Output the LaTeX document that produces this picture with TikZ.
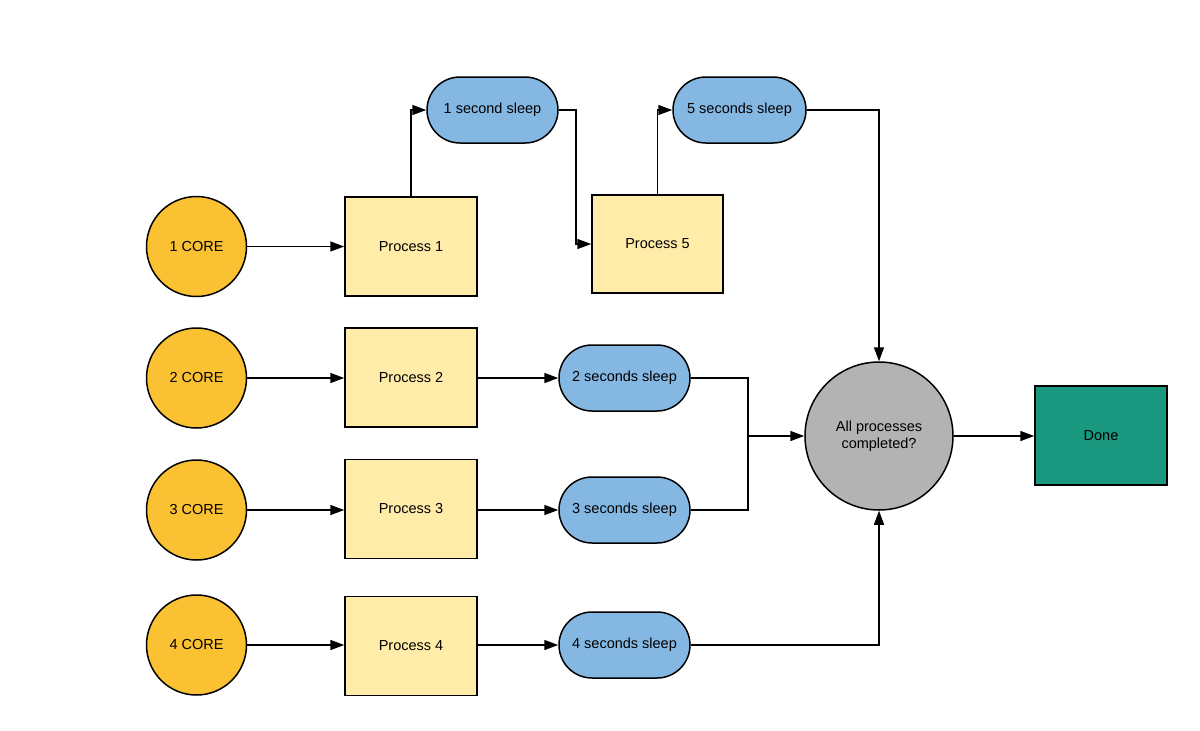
\documentclass[tikz,border=0pt]{standalone}
\usepackage{fontspec}
\setmainfont{Liberation Sans}
\usetikzlibrary{arrows.meta}
\definecolor{coreorange}{HTML}{FAC133}
\definecolor{procyellow}{HTML}{FFECA8}
\definecolor{sleepblue}{HTML}{84B8E3}
\definecolor{checkgray}{HTML}{B3B3B3}
\definecolor{doneteal}{HTML}{1A977F}
\tikzset{
  base/.style={draw=black, line width=1.5pt, inner sep=0pt, text=black,
    font=\fontsize{14.5}{17}\selectfont},
  corenode/.style={base, circle, fill=coreorange, minimum size=100pt},
  procnode/.style={base, rectangle, fill=procyellow, minimum width=132pt, minimum height=99pt},
  sleepnode/.style={base, rectangle, rounded corners=33pt, fill=sleepblue, minimum width=131pt, minimum height=66pt},
  checknode/.style={base, circle, fill=checkgray, minimum size=148pt, align=center},
  donenode/.style={base, rectangle, fill=doneteal, minimum width=132pt, minimum height=99pt},
  conn/.style={draw=black, line width=1.5pt},
  arr/.style={conn, -{Triangle[length=14pt,width=10pt]}}
}
\begin{document}
\begin{tikzpicture}[x=1pt,y=-1pt]
\useasboundingbox (0,0) rectangle (1200,731);
% row 1
\node[corenode] (c1) at (196.5,246.5) {1 CORE};
\node[procnode] (p1) at (411,246.5) {Process 1};
\node[sleepnode] (s1) at (492.5,110) {1 second sleep};
\node[procnode, minimum width=131pt, minimum height=98pt] (p5) at (657.5,244) {Process 5};
\node[sleepnode, minimum width=133pt] (s5) at (739.5,110) {5 seconds sleep};
% row 2
\node[corenode] (c2) at (196.5,378) {2 CORE};
\node[procnode] (p2) at (411,377.5) {Process 2};
\node[sleepnode] (s2) at (624.5,378) {2 seconds sleep};
% row 3
\node[corenode] (c3) at (196.5,510) {3 CORE};
\node[procnode] (p3) at (411,509) {Process 3};
\node[sleepnode] (s3) at (624.5,510) {3 seconds sleep};
% row 4
\node[corenode] (c4) at (196.5,645) {4 CORE};
\node[procnode] (p4) at (411,646) {Process 4};
\node[sleepnode] (s4) at (624.5,645) {4 seconds sleep};
% check and done
\node[checknode] (all) at (879,436) {All processes\\completed?};
\node[donenode] (done) at (1101,435.5) {Done};
\coordinate (j) at (748,436);
% connectors
\draw[arr] (c1.east) -- (p1.west);
\draw[arr] (p1.north) |- (s1.west);
\draw[arr] (s1.east) -- ++(17,0) |- (p5.west);
\draw[arr] (p5.north) |- (s5.west);
\draw[arr] (s5.east) -| (all.north);
\draw[arr] (c2.east) -- (p2.west |- c2.east);
\draw[arr] (p2.east |- s2.west) -- (s2.west);
\draw[arr] (c3.east) -- (p3.west |- c3.east);
\draw[arr] (p3.east |- s3.west) -- (s3.west);
\draw[arr] (c4.east) -- (p4.west |- c4.east);
\draw[arr] (p4.east |- s4.west) -- (s4.west);
\draw[conn] (s2.east) -| (j) |- (s3.east);
\draw[arr] (j) -- (all.west);
\draw[arr] (s4.east) -| (all.south);
\draw[arr] (all.east) -- (done.west |- all.east);
\end{tikzpicture}
\end{document}
